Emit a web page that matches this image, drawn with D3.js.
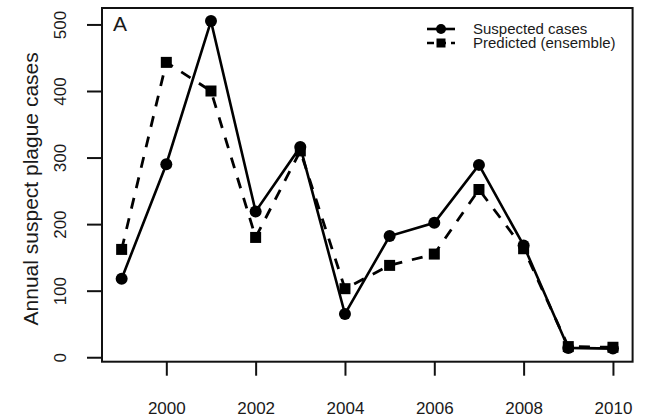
<!DOCTYPE html>
<html>
<head>
<meta charset="utf-8">
<script src="https://cdn.jsdelivr.net/npm/d3@7"></script>
<style>
  body { margin: 0; background: #fff; }
  svg text { font-family: "Liberation Sans", Arial, sans-serif; fill: #1a1a1a; }
</style>
</head>
<body>
<div id="chart"></div>
<script>
// data
var years = [1999, 2000, 2001, 2002, 2003, 2004, 2005, 2006, 2007, 2008, 2009, 2010];
var suspected = [118, 290, 505, 219, 316, 65, 182, 202, 289, 168, 14, 13];
var predicted = [162, 443, 400, 180, 310, 103, 138, 155, 252, 163, 16, 15];
var xTicks = [2000, 2002, 2004, 2006, 2008, 2010];
var yTicks = [0, 100, 200, 300, 400, 500];

var width = 645, height = 417;
var box = { left: 102, right: 632.6, top: 8, bottom: 361.7 };

var svg = d3.select("#chart").append("svg")
  .attr("width", width)
  .attr("height", height);

svg.append("rect")
  .attr("width", width)
  .attr("height", height)
  .attr("fill", "white");

// R style: 4% padding around the data range
var x = d3.scaleLinear().domain([1998.56, 2010.44]).range([box.left, box.right]);
var y = d3.scaleLinear().domain([-6.7, 524.7]).range([box.bottom, box.top]);

// ---- axes ----
var xAxis = svg.append("g")
  .attr("transform", "translate(0," + box.bottom + ")")
  .call(d3.axisBottom(x).tickValues(xTicks).tickSize(14).tickPadding(26).tickFormat(d3.format("d")));
xAxis.select(".domain").remove();
xAxis.selectAll("line").attr("stroke", "#111").attr("stroke-width", 2);
xAxis.selectAll("text").style("font-size", "17px").attr("fill", "#1a1a1a");

var yAxis = svg.append("g")
  .attr("transform", "translate(" + box.left + ",0)")
  .call(d3.axisLeft(y).tickValues(yTicks).tickSize(15).tickFormat(d3.format("d")));
yAxis.select(".domain").remove();
yAxis.selectAll("line").attr("stroke", "#111").attr("stroke-width", 2);
// labels turned parallel to the axis, like R's default
yAxis.selectAll("text")
  .style("font-size", "17px")
  .attr("fill", "#1a1a1a")
  .attr("x", null).attr("dy", null)
  .attr("text-anchor", "middle")
  .attr("transform", "translate(-36,0) rotate(-90)");

// plot frame
svg.append("rect")
  .attr("x", box.left)
  .attr("y", box.top)
  .attr("width", box.right - box.left)
  .attr("height", box.bottom - box.top)
  .attr("fill", "none")
  .attr("stroke", "#111")
  .attr("stroke-width", 2);

// axis title
svg.append("text")
  .attr("transform", "translate(38," + ((box.top + box.bottom) / 2 + 4) + ") rotate(-90)")
  .attr("text-anchor", "middle")
  .style("font-size", "21px")
  .text("Annual suspect plague cases");

// panel letter
svg.append("text")
  .attr("x", 113)
  .attr("y", 31)
  .style("font-size", "21px")
  .text("A");

// ---- series ----
var line = d3.line()
  .x(function(d, i) { return x(years[i]); })
  .y(function(d) { return y(d); });

svg.append("path")
  .datum(predicted)
  .attr("d", line)
  .attr("fill", "none")
  .attr("stroke", "#000")
  .attr("stroke-width", 2.8)
  .attr("stroke-dasharray", "11,10");

svg.append("path")
  .datum(suspected)
  .attr("d", line)
  .attr("fill", "none")
  .attr("stroke", "#000")
  .attr("stroke-width", 2.6);

svg.append("g").selectAll("rect")
  .data(predicted)
  .enter().append("rect")
  .attr("x", function(d, i) { return x(years[i]) - 5.5; })
  .attr("y", function(d) { return y(d) - 5.5; })
  .attr("width", 11)
  .attr("height", 11)
  .attr("fill", "#000");

svg.append("g").selectAll("circle")
  .data(suspected)
  .enter().append("circle")
  .attr("cx", function(d, i) { return x(years[i]); })
  .attr("cy", function(d) { return y(d); })
  .attr("r", 6)
  .attr("fill", "#000");

// ---- legend ----
var legendItems = [
  { label: "Suspected cases", dash: null, shape: "circle" },
  { label: "Predicted (ensemble)", dash: "7,5", shape: "square" }
];
var legend = svg.append("g").attr("transform", "translate(427,29)");
var row = legend.selectAll("g")
  .data(legendItems)
  .enter().append("g")
  .attr("transform", function(d, i) { return "translate(0," + (i * 14) + ")"; });
row.append("line")
  .attr("x1", 0).attr("x2", 28)
  .attr("stroke", "#000")
  .attr("stroke-width", 2.6)
  .attr("stroke-dasharray", function(d) { return d.dash; });
row.filter(function(d) { return d.shape === "circle"; })
  .append("circle").attr("cx", 14).attr("r", 5).attr("fill", "#000");
row.filter(function(d) { return d.shape === "square"; })
  .append("rect").attr("x", 9.5).attr("y", -4.5).attr("width", 9).attr("height", 9).attr("fill", "#000");
row.append("text")
  .attr("x", 46)
  .attr("dy", "0.35em")
  .style("font-size", "15px")
  .text(function(d) { return d.label; });
</script>
</body>
</html>
